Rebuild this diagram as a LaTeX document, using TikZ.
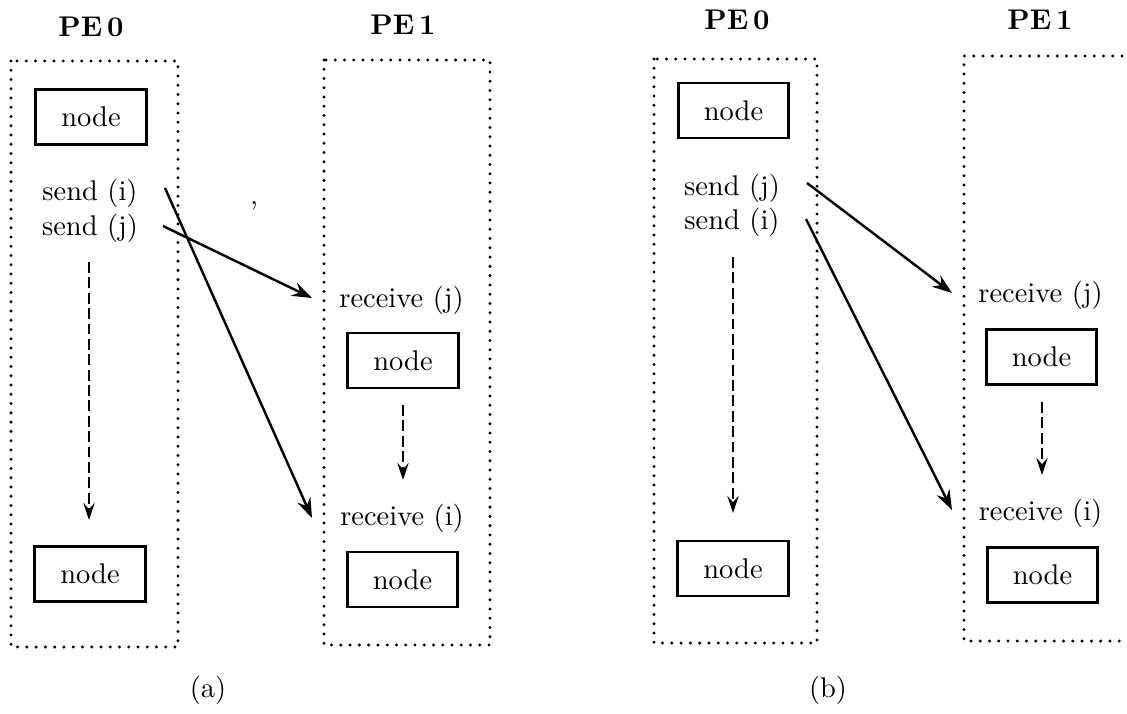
\documentclass[tikz,border=0pt]{standalone}
\usetikzlibrary{arrows.meta}
\begin{document}
\begin{tikzpicture}[x=0.351pt,y=-0.351pt,
  pe/.style={font=\bfseries,inner sep=0pt},
  nbox/.style={draw,line width=1pt,minimum width=38.9pt,minimum height=19.3pt,inner sep=0pt},
  lbl/.style={inner sep=0pt},
  pebox/.style={line width=1.15pt,line cap=round,dash pattern=on 0pt off 3.25pt},
  msg/.style={line width=0.85pt,-{Stealth[length=7pt,width=5pt,inset=2.4pt]}},
  flow/.style={line width=0.85pt,dash pattern=on 3.8pt off 1.6pt,-{Stealth[length=6pt,width=4pt,inset=2.2pt]}}]
\useasboundingbox (0,0) rectangle (1127,713);

% ---------------- panel (a) ----------------
\node[pe] (pe0a) at (91,27) {PE\,0};
\node[pe] (pe1a) at (403,25) {PE\,1};
\draw[pebox] (11,61) rectangle (178,647);
\draw[pebox] (324,60) rectangle (490,645);

\node[nbox] (na1) at (91,117) {node};
\node[lbl] (sia) at (90,193) {send (i)};
\node[lbl] (sja) at (90,228) {send (j)};
\node[nbox] (na2) at (90,574) {node};

\node[lbl] (rja) at (401.5,300) {receive (j)};
\node[nbox] (na3) at (403,360.5) {node};
\node[lbl] (ria) at (402,518) {receive (i)};
\node[nbox] (na4) at (402.5,579.5) {node};

\node[lbl] (comma) at (254,206) {,};

\draw[msg] ([shift={(75,-5)}]sia.center) -- ([shift={(-90,0)}]ria.center);
\draw[msg] ([shift={(73,-2)}]sja.center) -- ([shift={(-89.5,-2)}]rja.center);
\draw[flow] ([shift={(-1,34)}]sja.center) -- ([shift={(-1,-54)}]na2.center);
\draw[flow] ([shift={(0,44.5)}]na3.center) -- ([shift={(1,-38)}]ria.center);

\node[lbl] (capa) at (208,690) {(a)};

% ---------------- panel (b) ----------------
\node[pe] (pe0b) at (737,20) {PE\,0};
\node[pe] (pe1b) at (1040,20) {PE\,1};
\draw[pebox] (654,59) rectangle (817,643);
\draw[pebox] (1122,56) -- (964,56) -- (964,641) -- (1122,641);

\node[nbox] (nb1) at (733.5,110.5) {node};
\node[lbl] (sjb) at (732,188) {send (j)};
\node[lbl] (sib) at (732,222) {send (i)};
\node[nbox] (nb2) at (733,568.5) {node};

\node[lbl] (rjb) at (1040.5,295) {receive (j)};
\node[nbox] (nb3) at (1041.5,357) {node};
\node[lbl] (rib) at (1040.5,513) {receive (i)};
\node[nbox] (nb4) at (1042.5,575) {node};

\draw[msg] ([shift={(75,-5)}]sjb.center) -- ([shift={(-88.5,-2)}]rjb.center);
\draw[msg] ([shift={(74,-3)}]sib.center) -- ([shift={(-88.5,-3)}]rib.center);
\draw[flow] ([shift={(1,35)}]sib.center) -- ([shift={(0,-55.5)}]nb2.center);
\draw[flow] ([shift={(0.5,45)}]nb3.center) -- ([shift={(1.5,-38)}]rib.center);

\node[lbl] (capb) at (828,690) {(b)};
\end{tikzpicture}
\end{document}
